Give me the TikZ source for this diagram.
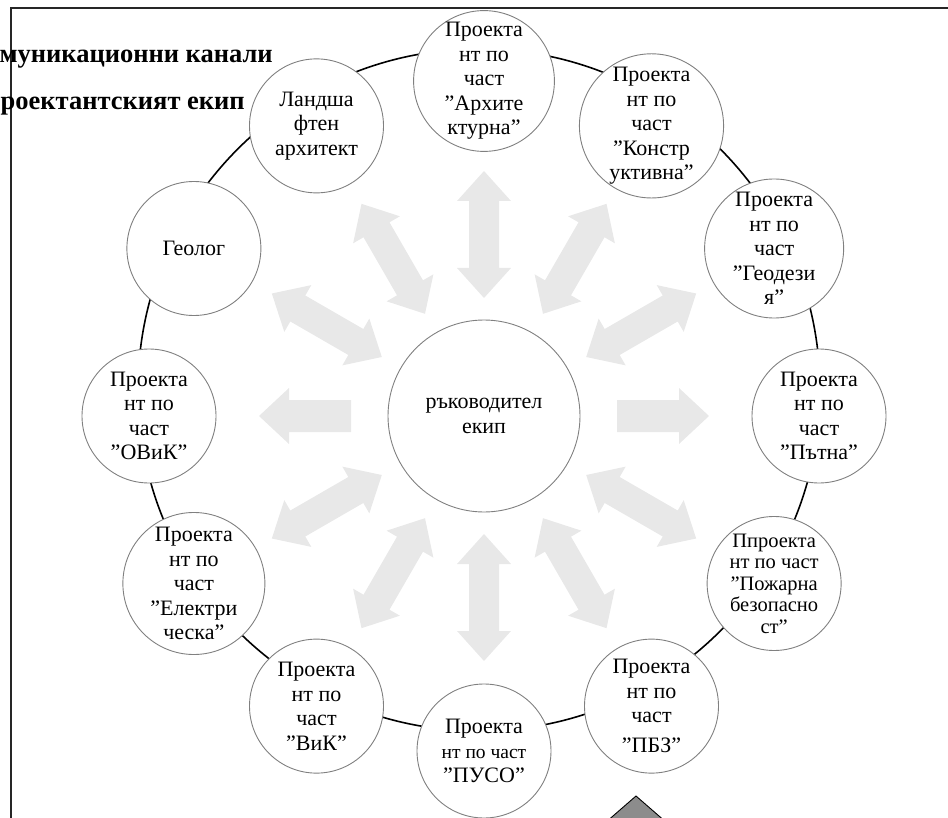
\documentclass[tikz,border=0pt]{standalone}
\usepackage{fontspec}
\setmainfont{Liberation Serif}
\usetikzlibrary{calc}
\tikzset{
  member/.style={circle, draw=black!50, line width=0.9pt, fill=white,
    minimum size=134pt, inner sep=0pt, align=center,
    font=\fontsize{22}{24.5}\selectfont},
  leader/.style={member, minimum size=192pt},
  ringline/.style={circle, draw=black, line width=1.6pt, inner sep=0pt, minimum size=682pt},
  flow/.style={fill=black!9},
  title/.style={anchor=base east, inner sep=0pt, font=\bfseries\fontsize{26.5}{30}\selectfont},
  frame/.style={line width=1.5pt, black!85},
  marker/.style={draw=black, line width=0.9pt, fill=black!45},
}
\newcommand\twoway[1]{\fill[flow, shift={(C)}, rotate=#1]
  (118pt,0pt) -- (148pt,27pt) -- (148pt,15pt) -- (215pt,15pt) -- (215pt,27pt)
  -- (245pt,0pt) -- (215pt,-27pt) -- (215pt,-15pt) -- (148pt,-15pt) -- (148pt,-27pt) -- cycle;}
\newcommand\oneway[1]{\fill[flow, shift={(C)}, rotate=#1]
  (133pt,16pt) -- (195pt,16pt) -- (195pt,28pt) -- (225pt,0pt)
  -- (195pt,-28pt) -- (195pt,-16pt) -- (133pt,-16pt) -- cycle;}
\begin{document}
\begin{tikzpicture}[x=1pt,y=-1pt]
\useasboundingbox (0,0) rectangle (948,818);
\clip (0,0) rectangle (948,818);
\coordinate (C) at (484,416);
\coordinate (R) at (479,390);
% big ring
\node[ringline] (ring) at (R) {};
% arrows
\oneway{0}
\twoway{30}
\twoway{60}
\twoway{90}
\twoway{120}
\twoway{150}
\oneway{180}
\twoway{210}
\twoway{240}
\twoway{270}
\twoway{300}
\twoway{330}
% centre
\node[leader] (lead) at (C) {ръководител\\екип};
% members
\node[member] (m1) at ($(C)+(90:335pt)$) {Проекта\\нт по\\част\\"Архите\\ктурна"};
\node[member] (m2) at ($(C)+(60:335pt)$) {Проекта\\нт по\\част\\"Констр\\уктивна"};
\node[member] (m3) at ($(C)+(30:335pt)$) {Проекта\\нт по\\част\\"Геодези\\я"};
\node[member] (m4) at ($(C)+(0:335pt)$) {Проекта\\нт по\\част\\"Пътна"};
\node[member, font=\fontsize{20.5}{21.5}\selectfont] (m5) at ($(C)+(-30:335pt)$) {Ппроекта\\нт по част\\"Пожарна\\безопасно\\ст"};
\node[member] (m6) at ($(C)+(-60:335pt)$) {Проекта\\нт по\\част\\[5pt]"ПБЗ"};
\node[member] (m7) at ($(C)+(-90:335pt)$) {Проекта\\{\fontsize{19.5}{21}\selectfont нт по част}\\"ПУСО"};
\node[member] (m8) at ($(C)+(-120:335pt)$) {Проекта\\нт по\\част\\"ВиК"};
\node[member] (m9) at ($(C)+(-150:335pt)$) {Проекта\\нт по\\част\\"Електри\\ческа"};
\node[member] (m10) at ($(C)+(180:335pt)$) {Проекта\\нт по\\част\\"ОВиК"};
\node[member] (m11) at ($(C)+(150:335pt)$) {Геолог};
\node[member] (m12) at ($(C)+(120:335pt)$) {Ландша\\фтен\\архитект};
% frame
\draw[frame] (11,830) -- (11,8) -- (950,8);
% titles
\node[title] (t1) at (273,63) {муникационни канали};
\node[title] (t2) at (245,110) {роектантският екип};
% marker at bottom
\draw[marker] (636,796) -- (682,836) -- (590,836) -- cycle;
\end{tikzpicture}
\end{document}
